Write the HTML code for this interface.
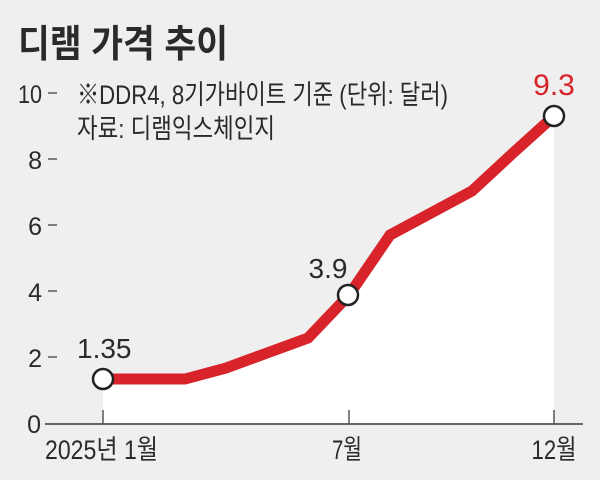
<!DOCTYPE html>
<html>
<head>
<meta charset="utf-8">
<style>
  html, body { margin: 0; padding: 0; background: #efefef; }
  svg { display: block; }
  text { font-family: "Liberation Sans", "Noto Sans CJK KR", sans-serif; fill: #2a2a2a; }
</style>
</head>
<body>
<svg width="600" height="480" viewBox="0 0 600 480" xmlns="http://www.w3.org/2000/svg">
  <rect x="0" y="0" width="600" height="480" fill="#efefef"/>

  <!-- Title -->
  <text x="18" y="57" font-size="38" font-weight="bold" textLength="210" lengthAdjust="spacingAndGlyphs">디램 가격 추이</text>

  <!-- Subtitle -->
  <text x="77" y="104" font-size="27" textLength="371" lengthAdjust="spacingAndGlyphs">※DDR4, 8기가바이트 기준 (단위: 달러)</text>
  <text x="77" y="138" font-size="27" textLength="198" lengthAdjust="spacingAndGlyphs">자료: 디램익스체인지</text>

  <!-- Fill under line -->
  <polygon fill="#ffffff" points="103,379 144,379 185,379 226,368 267,353 308,338 349,295 390,235 431,213 472,191 513,153 554,116 554,424 103,424"/>

  <!-- Y axis labels -->
  <g font-size="25">
    <text x="42" y="103" text-anchor="end" textLength="24" lengthAdjust="spacingAndGlyphs">10</text>
    <text x="42" y="169" text-anchor="end">8</text>
    <text x="42" y="235" text-anchor="end">6</text>
    <text x="42" y="301" text-anchor="end">4</text>
    <text x="42" y="367" text-anchor="end">2</text>
    <text x="41" y="433" text-anchor="end">0</text>
  </g>
  <g stroke="#444" stroke-width="1.3">
    <line x1="48" y1="93" x2="57" y2="93"/>
    <line x1="48" y1="159" x2="57" y2="159"/>
    <line x1="48" y1="225" x2="57" y2="225"/>
    <line x1="48" y1="291" x2="57" y2="291"/>
    <line x1="48" y1="357" x2="57" y2="357"/>
  </g>

  <!-- X axis -->
  <line x1="45" y1="424" x2="583" y2="424" stroke="#666" stroke-width="2"/>
  <g stroke="#555" stroke-width="1.5">
    <line x1="103" y1="410" x2="103" y2="424"/>
    <line x1="349" y1="410" x2="349" y2="424"/>
    <line x1="554" y1="410" x2="554" y2="424"/>
  </g>
  <g font-size="27">
    <text x="45" y="459" textLength="113" lengthAdjust="spacingAndGlyphs">2025년 1월</text>
    <text x="347" y="459" text-anchor="middle" textLength="30" lengthAdjust="spacingAndGlyphs">7월</text>
    <text x="554" y="459" text-anchor="middle" textLength="45" lengthAdjust="spacingAndGlyphs">12월</text>
  </g>

  <!-- Line -->
  <polyline fill="none" stroke="#d8232a" stroke-width="11" stroke-linejoin="miter" stroke-linecap="butt"
    points="103,379 144,379 185,379 226,368 267,353 308,338 349,295 390,235 431,213 472,191 513,153 554,116"/>

  <!-- Markers -->
  <g fill="#ffffff" stroke="#222" stroke-width="2.5">
    <circle cx="103" cy="379" r="10"/>
    <circle cx="348" cy="295" r="10"/>
    <circle cx="554" cy="116" r="10"/>
  </g>

  <!-- Data labels -->
  <text x="77" y="358" font-size="28">1.35</text>
  <text x="328" y="278" font-size="28" text-anchor="middle">3.9</text>
  <text x="554" y="95" font-size="30" text-anchor="middle" style="fill:#d8232a">9.3</text>
</svg>
</body>
</html>
